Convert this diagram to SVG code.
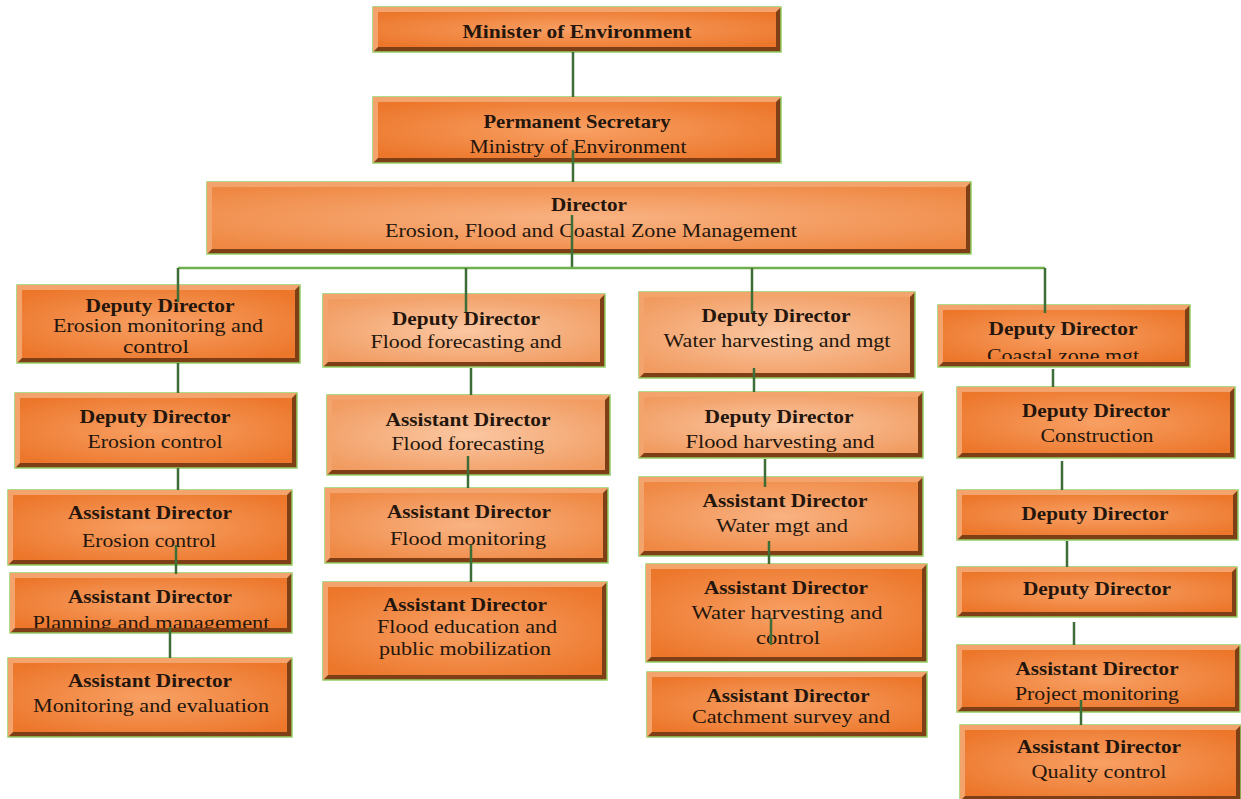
<svg xmlns="http://www.w3.org/2000/svg" width="1241" height="799" viewBox="0 0 1241 799">
  <defs>
    <radialGradient id="warm" cx="50%" cy="50%" r="65%">
      <stop offset="0" stop-color="#F8A064"/>
      <stop offset="1" stop-color="#EC762A"/>
    </radialGradient>
    <radialGradient id="mid" cx="50%" cy="50%" r="65%">
      <stop offset="0" stop-color="#F9B383"/>
      <stop offset="1" stop-color="#EF8843"/>
    </radialGradient>
    <radialGradient id="pale" cx="50%" cy="50%" r="65%">
      <stop offset="0" stop-color="#FBC7A2"/>
      <stop offset="1" stop-color="#F19B60"/>
    </radialGradient>
    <clipPath id="clip-plan"><rect x="15" y="578" width="272" height="50"/></clipPath>
    <clipPath id="clip-coast"><rect x="943" y="310" width="242" height="49"/></clipPath>
  </defs>
  <style>
    .base { fill: #7E3E16; stroke: #93CF66; stroke-width: 1.5; }
    .hi { fill: #F3A46C; }
    .t { font-family: "Liberation Serif", "Times New Roman", serif; font-size: 18px; fill: #24160C; text-anchor: middle; }
    .b { font-weight: bold; }
    .link { stroke: #3D6E37; stroke-width: 2.5; fill: none; }
    .bus { stroke: #6FAF4E; stroke-width: 2.5; fill: none; }
  </style>

  <rect width="1241" height="799" fill="#FFFFFF"/>

  <!-- top chain -->
  <g id="n-minister">
    <rect class="base" x="373" y="7" width="408" height="45"/>
    <polygon class="hi" points="373,7 781,7 776,12 378,12 378,47 373,52"/>
    <rect x="378" y="12" width="398" height="35" fill="url(#warm)"/>
    <text class="t b" x="577" y="38" textLength="229" lengthAdjust="spacingAndGlyphs">Minister of Environment</text>
  </g>

  <g id="n-permsec">
    <rect class="base" x="373" y="97" width="408" height="66"/>
    <polygon class="hi" points="373,97 781,97 776,102 378,102 378,158 373,163"/>
    <rect x="378" y="102" width="398" height="56" fill="url(#warm)"/>
    <text class="t b" x="577" y="128" textLength="187" lengthAdjust="spacingAndGlyphs">Permanent Secretary</text>
    <text class="t" x="578" y="153" textLength="217" lengthAdjust="spacingAndGlyphs">Ministry of Environment</text>
  </g>

  <g id="n-director">
    <rect class="base" x="207" y="182" width="764" height="72"/>
    <polygon class="hi" points="207,182 971,182 966,187 212,187 212,249 207,254"/>
    <rect x="212" y="187" width="754" height="62" fill="url(#mid)"/>
    <text class="t b" x="589" y="211" textLength="76" lengthAdjust="spacingAndGlyphs">Director</text>
    <text class="t" x="591" y="237" textLength="412" lengthAdjust="spacingAndGlyphs">Erosion, Flood and Coastal Zone Management</text>
  </g>

  <!-- column: erosion -->
  <g id="n-dd-erosion-mc">
    <rect class="base" x="17" y="285" width="283" height="78"/>
    <polygon class="hi" points="17,285 300,285 295,290 22,290 22,358 17,363"/>
    <rect x="22" y="290" width="273" height="68" fill="url(#warm)"/>
    <text class="t b" x="160" y="312" textLength="149" lengthAdjust="spacingAndGlyphs">Deputy Director</text>
    <text class="t" x="158" y="332" textLength="210" lengthAdjust="spacingAndGlyphs">Erosion monitoring and</text>
    <text class="t" x="156" y="353" textLength="66" lengthAdjust="spacingAndGlyphs">control</text>
  </g>

  <g id="n-dd-erosion-c">
    <rect class="base" x="15" y="393" width="282" height="75"/>
    <polygon class="hi" points="15,393 297,393 292,398 20,398 20,463 15,468"/>
    <rect x="20" y="398" width="272" height="65" fill="url(#warm)"/>
    <text class="t b" x="155" y="423" textLength="151" lengthAdjust="spacingAndGlyphs">Deputy Director</text>
    <text class="t" x="155" y="448" textLength="135" lengthAdjust="spacingAndGlyphs">Erosion control</text>
  </g>

  <g id="n-ad-erosion-c">
    <rect class="base" x="8" y="490" width="284" height="75"/>
    <polygon class="hi" points="8,490 292,490 287,495 13,495 13,560 8,565"/>
    <rect x="13" y="495" width="274" height="65" fill="url(#warm)"/>
    <text class="t b" x="150" y="519" textLength="164" lengthAdjust="spacingAndGlyphs">Assistant Director</text>
    <text class="t" x="149" y="547" textLength="134" lengthAdjust="spacingAndGlyphs">Erosion control</text>
  </g>

  <g id="n-ad-planning">
    <rect class="base" x="10" y="573" width="282" height="60"/>
    <polygon class="hi" points="10,573 292,573 287,578 15,578 15,628 10,633"/>
    <rect x="15" y="578" width="272" height="50" fill="url(#warm)"/>
    <text class="t b" x="150" y="603" textLength="164" lengthAdjust="spacingAndGlyphs">Assistant Director</text>
    <text class="t" x="151" y="629" textLength="237" lengthAdjust="spacingAndGlyphs" clip-path="url(#clip-plan)">Planning and management</text>
  </g>

  <g id="n-ad-monitoring-eval">
    <rect class="base" x="8" y="658" width="284" height="79"/>
    <polygon class="hi" points="8,658 292,658 287,663 13,663 13,732 8,737"/>
    <rect x="13" y="663" width="274" height="69" fill="url(#warm)"/>
    <text class="t b" x="150" y="687" textLength="164" lengthAdjust="spacingAndGlyphs">Assistant Director</text>
    <text class="t" x="151" y="712" textLength="236" lengthAdjust="spacingAndGlyphs">Monitoring and evaluation</text>
  </g>

  <!-- column: flood -->
  <g id="n-dd-flood-fc">
    <rect class="base" x="323" y="294" width="282" height="73"/>
    <polygon class="hi" points="323,294 605,294 600,299 328,299 328,362 323,367"/>
    <rect x="328" y="299" width="272" height="63" fill="url(#pale)"/>
    <text class="t b" x="466" y="325" textLength="148" lengthAdjust="spacingAndGlyphs">Deputy Director</text>
    <text class="t" x="466" y="348" textLength="191" lengthAdjust="spacingAndGlyphs">Flood forecasting and</text>
  </g>

  <g id="n-ad-flood-fc">
    <rect class="base" x="327" y="395" width="283" height="80"/>
    <polygon class="hi" points="327,395 610,395 605,400 332,400 332,470 327,475"/>
    <rect x="332" y="400" width="273" height="70" fill="url(#pale)"/>
    <text class="t b" x="468" y="426" textLength="165" lengthAdjust="spacingAndGlyphs">Assistant Director</text>
    <text class="t" x="468" y="450" textLength="153" lengthAdjust="spacingAndGlyphs">Flood forecasting</text>
  </g>

  <g id="n-ad-flood-mon">
    <rect class="base" x="325" y="488" width="283" height="75"/>
    <polygon class="hi" points="325,488 608,488 603,493 330,493 330,558 325,563"/>
    <rect x="330" y="493" width="273" height="65" fill="url(#mid)"/>
    <text class="t b" x="469" y="518" textLength="164" lengthAdjust="spacingAndGlyphs">Assistant Director</text>
    <text class="t" x="468" y="545" textLength="156" lengthAdjust="spacingAndGlyphs">Flood monitoring</text>
  </g>

  <g id="n-ad-flood-edu">
    <rect class="base" x="323" y="582" width="284" height="98"/>
    <polygon class="hi" points="323,582 607,582 602,587 328,587 328,675 323,680"/>
    <rect x="328" y="587" width="274" height="88" fill="url(#warm)"/>
    <text class="t b" x="465" y="611" textLength="164" lengthAdjust="spacingAndGlyphs">Assistant Director</text>
    <text class="t" x="467" y="633" textLength="180" lengthAdjust="spacingAndGlyphs">Flood education and</text>
    <text class="t" x="465" y="655" textLength="172" lengthAdjust="spacingAndGlyphs">public mobilization</text>
  </g>

  <!-- column: water -->
  <g id="n-dd-water">
    <rect class="base" x="639" y="292" width="276" height="86"/>
    <polygon class="hi" points="639,292 915,292 910,297 644,297 644,373 639,378"/>
    <rect x="644" y="297" width="266" height="76" fill="url(#pale)"/>
    <text class="t b" x="776" y="322" textLength="149" lengthAdjust="spacingAndGlyphs">Deputy Director</text>
    <text class="t" x="777" y="347" textLength="227" lengthAdjust="spacingAndGlyphs">Water harvesting and mgt</text>
  </g>

  <g id="n-dd-flood-harv">
    <rect class="base" x="639" y="392" width="284" height="66"/>
    <polygon class="hi" points="639,392 923,392 918,397 644,397 644,453 639,458"/>
    <rect x="644" y="397" width="274" height="56" fill="url(#pale)"/>
    <text class="t b" x="779" y="423" textLength="149" lengthAdjust="spacingAndGlyphs">Deputy Director</text>
    <text class="t" x="780" y="448" textLength="189" lengthAdjust="spacingAndGlyphs">Flood harvesting and</text>
  </g>

  <g id="n-ad-water-mgt">
    <rect class="base" x="639" y="477" width="284" height="79"/>
    <polygon class="hi" points="639,477 923,477 918,482 644,482 644,551 639,556"/>
    <rect x="644" y="482" width="274" height="69" fill="url(#mid)"/>
    <text class="t b" x="785" y="507" textLength="165" lengthAdjust="spacingAndGlyphs">Assistant Director</text>
    <text class="t" x="782" y="532" textLength="132" lengthAdjust="spacingAndGlyphs">Water mgt and</text>
  </g>

  <g id="n-ad-water-harv">
    <rect class="base" x="646" y="564" width="281" height="98"/>
    <polygon class="hi" points="646,564 927,564 922,569 651,569 651,657 646,662"/>
    <rect x="651" y="569" width="271" height="88" fill="url(#warm)"/>
    <text class="t b" x="786" y="594" textLength="164" lengthAdjust="spacingAndGlyphs">Assistant Director</text>
    <text class="t" x="787" y="619" textLength="191" lengthAdjust="spacingAndGlyphs">Water harvesting and</text>
    <text class="t" x="788" y="644" textLength="64" lengthAdjust="spacingAndGlyphs">control</text>
  </g>

  <g id="n-ad-catchment">
    <rect class="base" x="647" y="672" width="280" height="65"/>
    <polygon class="hi" points="647,672 927,672 922,677 652,677 652,732 647,737"/>
    <rect x="652" y="677" width="270" height="55" fill="url(#warm)"/>
    <text class="t b" x="788" y="702" textLength="163" lengthAdjust="spacingAndGlyphs">Assistant Director</text>
    <text class="t" x="791" y="723" textLength="198" lengthAdjust="spacingAndGlyphs">Catchment survey and</text>
  </g>

  <!-- column: coastal -->
  <g id="n-dd-coastal">
    <rect class="base" x="938" y="305" width="252" height="62"/>
    <polygon class="hi" points="938,305 1190,305 1185,310 943,310 943,362 938,367"/>
    <rect x="943" y="310" width="242" height="52" fill="url(#warm)"/>
    <text class="t b" x="1063" y="335" textLength="149" lengthAdjust="spacingAndGlyphs">Deputy Director</text>
    <text class="t" x="1063" y="362" textLength="152" lengthAdjust="spacingAndGlyphs" clip-path="url(#clip-coast)">Coastal zone mgt</text>
  </g>

  <g id="n-dd-construction">
    <rect class="base" x="957" y="387" width="278" height="71"/>
    <polygon class="hi" points="957,387 1235,387 1230,392 962,392 962,453 957,458"/>
    <rect x="962" y="392" width="268" height="61" fill="url(#warm)"/>
    <text class="t b" x="1096" y="417" textLength="148" lengthAdjust="spacingAndGlyphs">Deputy Director</text>
    <text class="t" x="1097" y="442" textLength="113" lengthAdjust="spacingAndGlyphs">Construction</text>
  </g>

  <g id="n-dd-coastal-3">
    <rect class="base" x="957" y="490" width="281" height="50"/>
    <polygon class="hi" points="957,490 1238,490 1233,495 962,495 962,535 957,540"/>
    <rect x="962" y="495" width="271" height="40" fill="url(#warm)"/>
    <text class="t b" x="1095" y="520" textLength="147" lengthAdjust="spacingAndGlyphs">Deputy Director</text>
  </g>

  <g id="n-dd-coastal-4">
    <rect class="base" x="957" y="567" width="280" height="50"/>
    <polygon class="hi" points="957,567 1237,567 1232,572 962,572 962,612 957,617"/>
    <rect x="962" y="572" width="270" height="40" fill="url(#warm)"/>
    <text class="t b" x="1097" y="595" textLength="148" lengthAdjust="spacingAndGlyphs">Deputy Director</text>
  </g>

  <g id="n-ad-project">
    <rect class="base" x="957" y="645" width="283" height="67"/>
    <polygon class="hi" points="957,645 1240,645 1235,650 962,650 962,707 957,712"/>
    <rect x="962" y="650" width="273" height="57" fill="url(#warm)"/>
    <text class="t b" x="1097" y="675" textLength="163" lengthAdjust="spacingAndGlyphs">Assistant Director</text>
    <text class="t" x="1097" y="700" textLength="164" lengthAdjust="spacingAndGlyphs">Project monitoring</text>
  </g>

  <g id="n-ad-quality">
    <rect class="base" x="960" y="725" width="281" height="76"/>
    <polygon class="hi" points="960,725 1241,725 1236,730 965,730 965,796 960,801"/>
    <rect x="965" y="730" width="271" height="66" fill="url(#warm)"/>
    <text class="t b" x="1099" y="753" textLength="164" lengthAdjust="spacingAndGlyphs">Assistant Director</text>
    <text class="t" x="1099" y="778" textLength="135" lengthAdjust="spacingAndGlyphs">Quality control</text>
  </g>

  <!-- connectors -->
  <g id="connectors">
    <line class="link" x1="573" y1="52" x2="573" y2="97"/>
    <line class="link" x1="573" y1="150" x2="573" y2="182"/>
    <line class="link" x1="572" y1="215" x2="572" y2="268"/>
    <line class="bus" x1="178" y1="268" x2="1045" y2="268"/>

    <line class="link" x1="178" y1="268" x2="178" y2="302"/>
    <line class="link" x1="178" y1="363" x2="178" y2="393"/>
    <line class="link" x1="178" y1="468" x2="178" y2="490"/>
    <line class="link" x1="176" y1="545" x2="176" y2="574"/>
    <line class="link" x1="170" y1="627" x2="170" y2="658"/>

    <line class="link" x1="466" y1="268" x2="466" y2="312"/>
    <line class="link" x1="471" y1="368" x2="471" y2="395"/>
    <line class="link" x1="468" y1="456" x2="468" y2="488"/>
    <line class="link" x1="471" y1="545" x2="471" y2="582"/>

    <line class="link" x1="752" y1="268" x2="752" y2="313"/>
    <line class="link" x1="754" y1="368" x2="754" y2="392"/>
    <line class="link" x1="765" y1="459" x2="765" y2="487"/>
    <line class="link" x1="769" y1="541" x2="769" y2="564"/>
    <line class="link" x1="771" y1="618" x2="771" y2="645"/>

    <line class="link" x1="1045" y1="268" x2="1045" y2="313"/>
    <line class="link" x1="1053" y1="369" x2="1053" y2="387"/>
    <line class="link" x1="1062" y1="461" x2="1062" y2="490"/>
    <line class="link" x1="1067" y1="541" x2="1067" y2="567"/>
    <line class="link" x1="1074" y1="622" x2="1074" y2="645"/>
    <line class="link" x1="1081" y1="700" x2="1081" y2="725"/>
  </g>
</svg>
